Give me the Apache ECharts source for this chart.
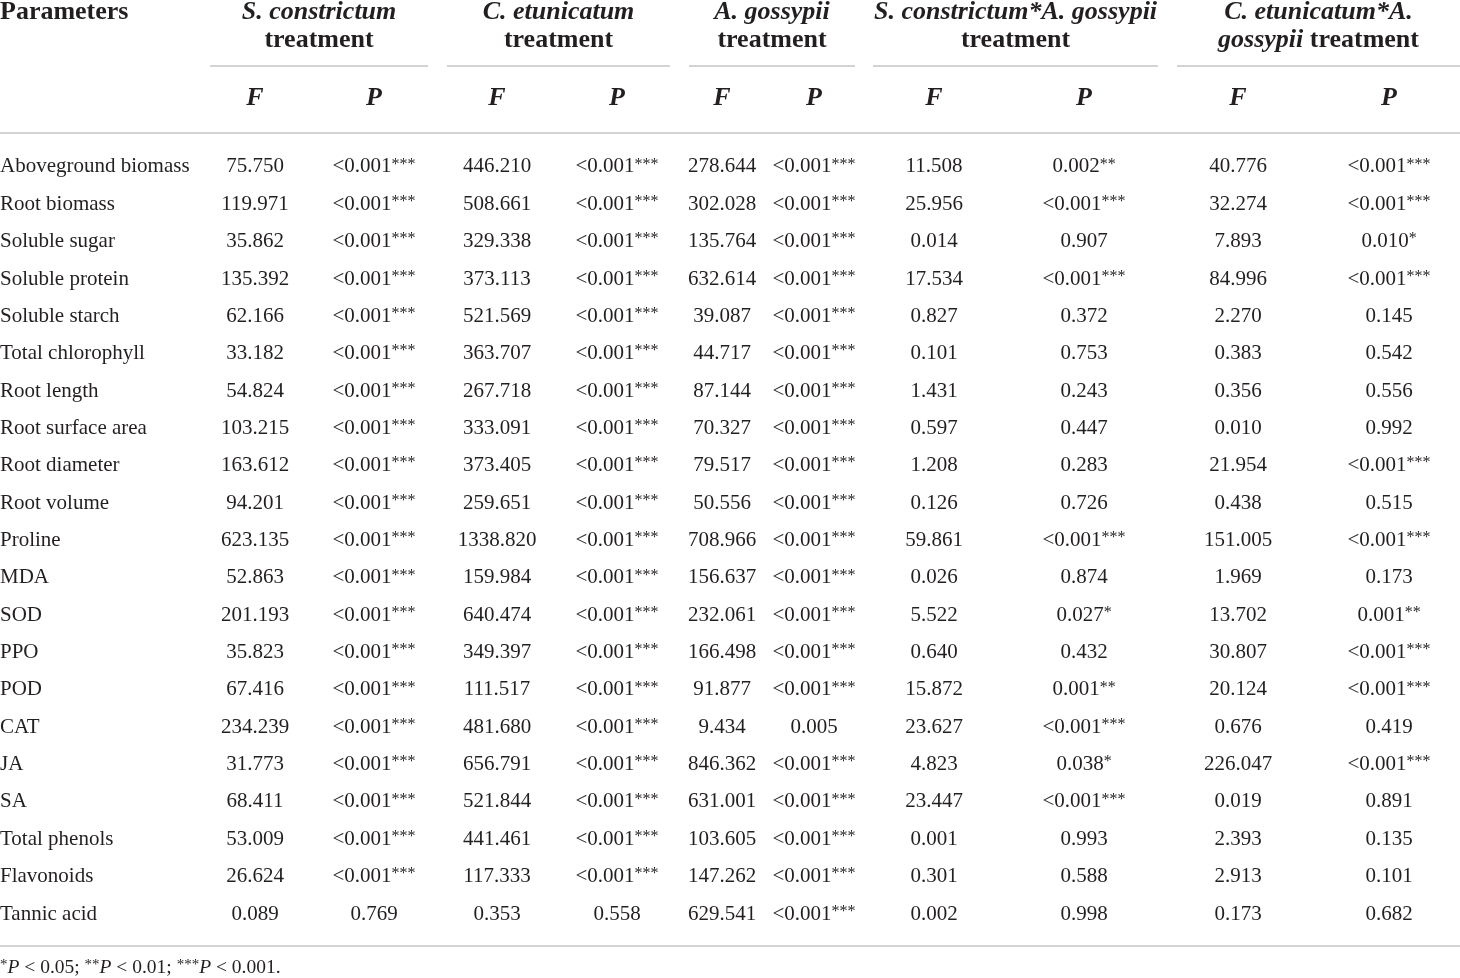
<!DOCTYPE html>
<html>
<head>
<meta charset="utf-8">
<title>ANOVA table</title>
<script src="https://cdn.jsdelivr.net/npm/echarts@6/dist/echarts.min.js"></script>
<style>
	html, body { margin: 0; padding: 0; background: #fff; }
	#main { width: 1460px; height: 978px; }
</style>
</head>
<body>
<div id="main"></div>
<script>
// 参数
var params = ['Aboveground biomass', 'Root biomass', 'Soluble sugar', 'Soluble protein', 'Soluble starch',
	'Total chlorophyll', 'Root length', 'Root surface area', 'Root diameter', 'Root volume', 'Proline',
	'MDA', 'SOD', 'PPO', 'POD', 'CAT', 'JA', 'SA', 'Total phenols', 'Flavonoids', 'Tannic acid'];

// S. constrictum treatment
var scF = [75.750, 119.971, 35.862, 135.392, 62.166, 33.182, 54.824, 103.215, 163.612, 94.201, 623.135,
	52.863, 201.193, 35.823, 67.416, 234.239, 31.773, 68.411, 53.009, 26.624, 0.089];
var scP = ['<0.001***', '<0.001***', '<0.001***', '<0.001***', '<0.001***', '<0.001***', '<0.001***',
	'<0.001***', '<0.001***', '<0.001***', '<0.001***', '<0.001***', '<0.001***', '<0.001***', '<0.001***',
	'<0.001***', '<0.001***', '<0.001***', '<0.001***', '<0.001***', '0.769'];

// C. etunicatum treatment
var ceF = [446.210, 508.661, 329.338, 373.113, 521.569, 363.707, 267.718, 333.091, 373.405, 259.651, 1338.820,
	159.984, 640.474, 349.397, 111.517, 481.680, 656.791, 521.844, 441.461, 117.333, 0.353];
var ceP = ['<0.001***', '<0.001***', '<0.001***', '<0.001***', '<0.001***', '<0.001***', '<0.001***',
	'<0.001***', '<0.001***', '<0.001***', '<0.001***', '<0.001***', '<0.001***', '<0.001***', '<0.001***',
	'<0.001***', '<0.001***', '<0.001***', '<0.001***', '<0.001***', '0.558'];

// A. gossypii treatment
var agF = [278.644, 302.028, 135.764, 632.614, 39.087, 44.717, 87.144, 70.327, 79.517, 50.556, 708.966,
	156.637, 232.061, 166.498, 91.877, 9.434, 846.362, 631.001, 103.605, 147.262, 629.541];
var agP = ['<0.001***', '<0.001***', '<0.001***', '<0.001***', '<0.001***', '<0.001***', '<0.001***',
	'<0.001***', '<0.001***', '<0.001***', '<0.001***', '<0.001***', '<0.001***', '<0.001***', '<0.001***',
	'0.005', '<0.001***', '<0.001***', '<0.001***', '<0.001***', '<0.001***'];

// S. constrictum*A. gossypii treatment
var scagF = [11.508, 25.956, 0.014, 17.534, 0.827, 0.101, 1.431, 0.597, 1.208, 0.126, 59.861,
	0.026, 5.522, 0.640, 15.872, 23.627, 4.823, 23.447, 0.001, 0.301, 0.002];
var scagP = ['0.002**', '<0.001***', '0.907', '<0.001***', '0.372', '0.753', '0.243', '0.447', '0.283',
	'0.726', '<0.001***', '0.874', '0.027*', '0.432', '0.001**', '<0.001***', '0.038*', '<0.001***',
	'0.993', '0.588', '0.998'];

// C. etunicatum*A. gossypii treatment
var ceagF = [40.776, 32.274, 7.893, 84.996, 2.270, 0.383, 0.356, 0.010, 21.954, 0.438, 151.005,
	1.969, 13.702, 30.807, 20.124, 0.676, 226.047, 0.019, 2.393, 2.913, 0.173];
var ceagP = ['<0.001***', '<0.001***', '0.010*', '<0.001***', '0.145', '0.542', '0.556', '0.992',
	'<0.001***', '0.515', '<0.001***', '0.173', '0.001**', '<0.001***', '<0.001***', '0.419',
	'<0.001***', '0.891', '0.135', '0.101', '0.682'];

var groupTitles = [
	'{bi|S. constrictum}\n{b|treatment}',
	'{bi|C. etunicatum}\n{b|treatment}',
	'{bi|A. gossypii}\n{b|treatment}',
	'{bi|S. constrictum*A. gossypii}\n{b|treatment}',
	'{bi|C. etunicatum*A.}\n{bi|gossypii}{b| treatment}'
];
var footnote = '{s|*}{i|P} < 0.05; {s|**}{i|P} < 0.01; {s|***}{i|P} < 0.001.';

// 版面 (layout only)
var columns = [params, scF, scP, ceF, ceP, agF, agP, scagF, scagP, ceagF, ceagP];
var colX = [0, 255, 374, 497, 617, 722, 814, 934, 1084, 1238, 1389];
var groupSpan = [[210, 428], [447, 670], [689, 855], [873, 1158], [1177, 1460]];

var serif = '"Liberation Serif", "DejaVu Serif", serif';
var ink = '#231f20';
var rule = '#c4c4c4';
var cellSize = 21;

function cellText(v) {
	if (typeof v === 'number') return v.toFixed(3);
	var m = v.match(/^([^*]*)(\*+)$/);
	return m ? m[1] + '{s|' + m[2] + '}' : v;
}

// 每个单元格一条数据: [列x, 行号, 列号]
var cells = [];
columns.forEach(function(col, k) {
	col.forEach(function(v, i) { cells.push([colX[k], i, k]); });
});

var cellSeries = {
	type: 'custom',
	silent: true,
	data: cells,
	renderItem: function(p, api) {
		var pt = api.coord([api.value(0), api.value(1)]);
		var k = api.value(2);
		var v = columns[k][api.value(1)];
		return {
			type: 'text',
			x: pt[0],
			y: pt[1],
			style: {
				text: k === 0 ? v : cellText(v),
				align: k === 0 ? 'left' : 'center',
				verticalAlign: 'middle',
				fill: ink,
				fontFamily: serif,
				fontSize: cellSize,
				rich: {
					s: { fontSize: 16, fontFamily: serif, fill: ink, verticalAlign: 'top' }
				}
			}
		};
	}
};

var graphic = [];
graphic.push({
	type: 'text', x: 0, y: 12,
	style: { text: 'Parameters', fill: ink, font: 'bold 26px ' + serif, textVerticalAlign: 'middle' }
});
groupSpan.forEach(function(s, g) {
	var cx = (s[0] + s[1]) / 2;
	graphic.push({
		type: 'text', x: cx, y: 26,
		style: {
			text: groupTitles[g], textAlign: 'center', textVerticalAlign: 'middle',
			rich: {
				bi: { fontFamily: serif, fontSize: 26, fontWeight: 'bold', fontStyle: 'italic', fill: ink, lineHeight: 28 },
				b: { fontFamily: serif, fontSize: 26, fontWeight: 'bold', fill: ink, lineHeight: 28 }
			}
		}
	});
	graphic.push({
		type: 'line', shape: { x1: s[0], y1: 66, x2: s[1], y2: 66 },
		style: { stroke: rule, lineWidth: 1.5 }
	});
});
colX.slice(1).forEach(function(x, k) {
	graphic.push({
		type: 'text', x: x, y: 98,
		style: {
			text: k % 2 === 0 ? 'F' : 'P', textAlign: 'center', textVerticalAlign: 'middle',
			fill: ink, font: 'italic bold 26px ' + serif
		}
	});
});
graphic.push({ type: 'line', shape: { x1: 0, y1: 133, x2: 1460, y2: 133 }, style: { stroke: rule, lineWidth: 1.5 } });
graphic.push({ type: 'line', shape: { x1: 0, y1: 946, x2: 1460, y2: 946 }, style: { stroke: rule, lineWidth: 1.5 } });
graphic.push({
	type: 'text', x: 0, y: 968,
	style: {
		text: footnote, textVerticalAlign: 'middle',
		rich: {
			i: { fontFamily: serif, fontSize: 19.5, fontStyle: 'italic', fill: ink },
			s: { fontFamily: serif, fontSize: 15, fill: ink, verticalAlign: 'top' }
		},
		fontFamily: serif, fontSize: 19.5, fill: ink
	}
});

var myChart = echarts.init(document.getElementById('main'));
var option = {
	animation: false,
	grid: { left: 0, right: 0, top: 148.3, bottom: 45.3, containLabel: false },
	xAxis: { type: 'value', min: 0, max: 1460, show: false },
	yAxis: { type: 'category', inverse: true, data: params, show: false },
	graphic: graphic,
	series: [cellSeries]
};
myChart.setOption(option);
window.addEventListener('resize', function() {
	myChart.resize();
});
</script>
</body>
</html>
